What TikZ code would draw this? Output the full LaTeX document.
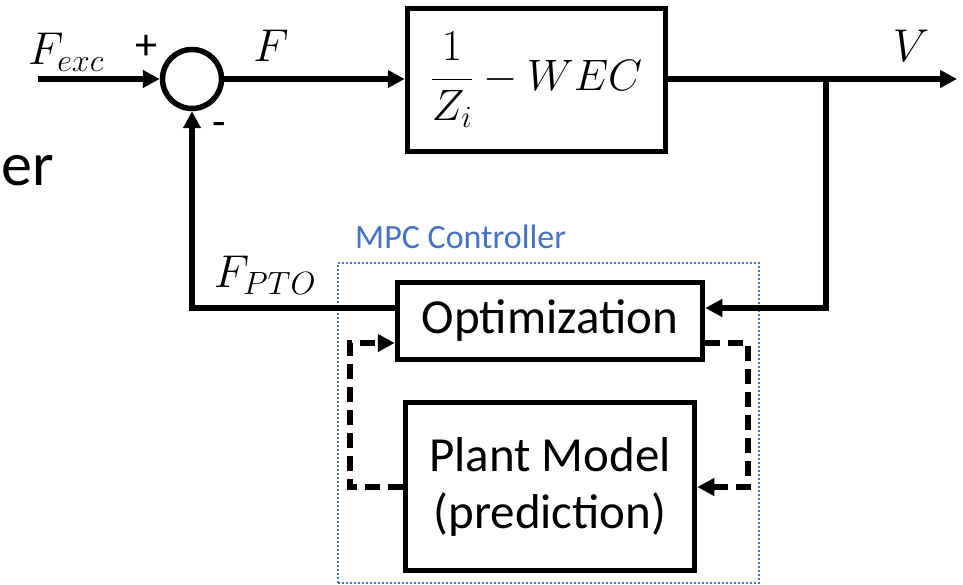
\RequirePackage{fix-cm}
\documentclass[tikz,border=0pt]{standalone}
\usepackage{fontspec}
\setmainfont{Carlito}
\usetikzlibrary{arrows.meta}
\definecolor{mpcblue}{RGB}{68,114,196}
\tikzset{
  blk/.style={draw, line width=5.5pt, inner sep=0pt, font=\fontsize{49}{57}\selectfont, align=center},
  wire/.style={line width=5.5pt},
  arr/.style={wire, -{Triangle[length=17pt,width=17pt]}},
  dsh/.style={line width=5.5pt, dash pattern=on 15pt off 8pt},
  darr/.style={dsh, -{Triangle[length=17pt,width=17pt]}},
  mlab/.style={inner sep=0pt, font=\fontsize{46}{50}\selectfont},
  sgn/.style={inner sep=0pt, font=\fontsize{44}{48}\selectfont},
}
\begin{document}
\begin{tikzpicture}[x=1pt,y=-1pt]
\useasboundingbox (0,0) rectangle (963,585);
% texts
\node[inner sep=0pt, anchor=base east, font=\fontsize{62}{70}\selectfont] (er) at (54,186) {er};
% blocks
\node[draw, circle, line width=5.5pt, minimum size=59pt, inner sep=0pt] (sum) at (192,79) {};
\node[blk, minimum width=258pt, minimum height=143pt] (wec) at (536.5,80) {\fontsize{44}{50}\selectfont$\displaystyle\frac{1}{Z_i}-WEC$};
\node[blk, minimum width=305pt, minimum height=77pt] (opt) at (550,321) {Optimization};
\node[blk, minimum width=289pt, minimum height=168pt] (plant) at (550,486.5) {Plant Model\\(prediction)};
% MPC frame
\node[draw=mpcblue, line width=2pt, dotted, minimum width=421pt, minimum height=320pt, inner sep=0pt] (mpc) at (548.5,423) {};
\node[inner sep=0pt, anchor=base west, text=mpcblue, font=\fontsize{34}{40}\selectfont] (mpclab) at (355,249) {MPC Controller};
% coordinates
\coordinate (in) at (38,79);
\coordinate (j) at (826,79);
\coordinate (out) at (957,79);
\coordinate (jd) at (826,308);
\coordinate (pl) at (192,308);
\coordinate (dl) at (350,343);
\coordinate (dr) at (748,343);
% connectors
\draw[arr] (in) -- (sum.west);
\draw[arr] (sum.east) -- (wec.west |- sum.east);
\draw[arr] (wec.east |- j) -- (out);
\draw[arr] (j) -- (jd) -- (opt.east |- jd);
\draw[arr] (opt.west |- jd) -- (pl) -- (sum.south);
\draw[darr] (plant.west |- 0,487) -| (dl) -- (opt.west |- dl);
\draw[darr] (opt.east |- dr) -| (dr |- 0,487) -- (plant.east |- 0,487);
% labels
\node[mlab] (lfexc) at (66,52) {$F_{exc}$};
\node[sgn] (lplus) at (146,47) {+};
\node[sgn] (lminus) at (219,129) {-};
\node[mlab] (lf) at (271,46) {$F$};
\node[mlab] (lv) at (911,46) {$V$};
\node[mlab] (lfpto) at (265,275) {$F_{PTO}$};
\end{tikzpicture}
\end{document}
